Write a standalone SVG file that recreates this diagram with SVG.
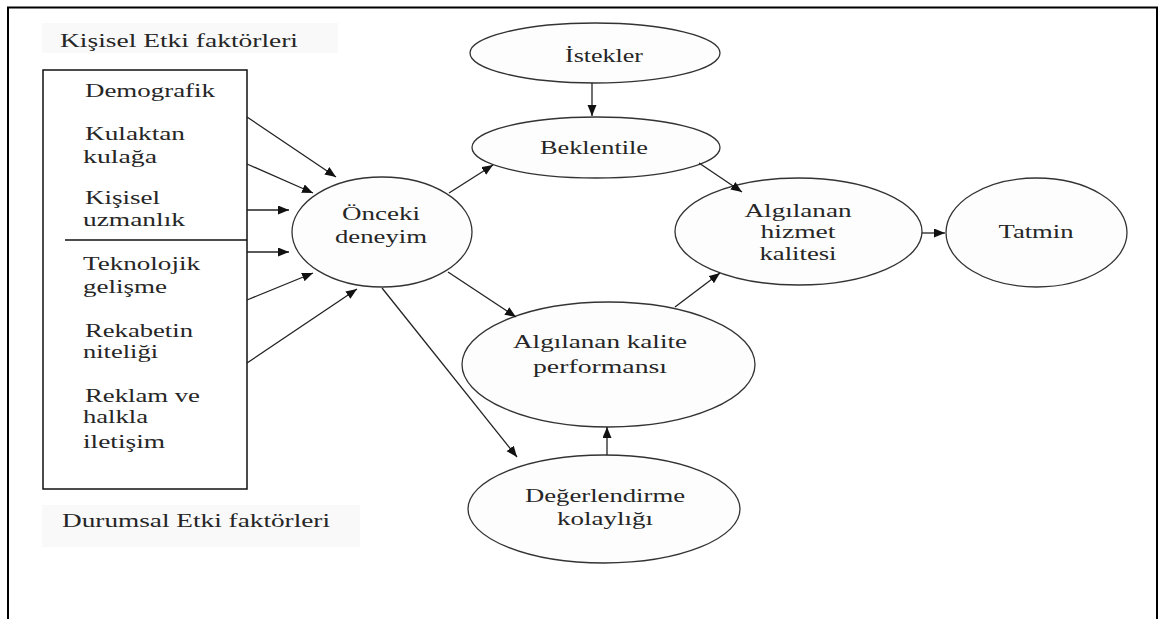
<svg xmlns="http://www.w3.org/2000/svg" width="1161" height="619" viewBox="0 0 1161 619">
<style>
text{font-family:"Liberation Serif","Times New Roman",serif;font-size:18.5px;fill:#262626}
.c{text-anchor:middle}
.node{fill:#fdfdfd;stroke:#333;stroke-width:1.3}
.conn line{stroke:#222;stroke-width:1.3;marker-end:url(#ah)}
.lbl{fill:#f9f9f9}
</style>
<defs>
<marker id="ah" markerUnits="userSpaceOnUse" markerWidth="12" markerHeight="10" refX="11" refY="4.5" orient="auto">
<path d="M0,0 L11,4.5 L0,9 z" fill="#111"/>
</marker>
</defs>
<rect width="1161" height="619" fill="#fff"/>
<path d="M8,619 V7.5 H1157 V619" fill="none" stroke="#000" stroke-width="2"/>

<g id="label-kisisel">
<rect class="lbl" x="42" y="23" width="296" height="30"/>
<text x="60" y="47" textLength="238" lengthAdjust="spacingAndGlyphs">Kişisel Etki faktörleri</text>
</g>
<g id="label-durumsal">
<rect class="lbl" x="42" y="505" width="318" height="42"/>
<text x="62" y="527" textLength="268" lengthAdjust="spacingAndGlyphs">Durumsal Etki faktörleri</text>
</g>

<g id="factors">
<rect x="43" y="70" width="204" height="419" fill="#fff" stroke="#111" stroke-width="1.5"/>
<line x1="65" y1="240" x2="247" y2="240" stroke="#111" stroke-width="1.3"/>
<text x="85" y="97" textLength="130" lengthAdjust="spacingAndGlyphs">Demografik</text>
<text x="85" y="140" textLength="100" lengthAdjust="spacingAndGlyphs">Kulaktan</text>
<text x="83" y="163" textLength="74" lengthAdjust="spacingAndGlyphs">kulağa</text>
<text x="85" y="204" textLength="75" lengthAdjust="spacingAndGlyphs">Kişisel</text>
<text x="83" y="226" textLength="102" lengthAdjust="spacingAndGlyphs">uzmanlık</text>
<text x="83" y="270" textLength="117" lengthAdjust="spacingAndGlyphs">Teknolojik</text>
<text x="83" y="293" textLength="84" lengthAdjust="spacingAndGlyphs">gelişme</text>
<text x="85" y="337" textLength="108" lengthAdjust="spacingAndGlyphs">Rekabetin</text>
<text x="83" y="358" textLength="75" lengthAdjust="spacingAndGlyphs">niteliği</text>
<text x="85" y="402" textLength="115" lengthAdjust="spacingAndGlyphs">Reklam ve</text>
<text x="83" y="423" textLength="65" lengthAdjust="spacingAndGlyphs">halkla</text>
<text x="83" y="448" textLength="82" lengthAdjust="spacingAndGlyphs">iletişim</text>
</g>

<g id="onceki">
<ellipse class="node" cx="382" cy="232" rx="90" ry="55"/>
<text class="c" x="381" y="220" textLength="78" lengthAdjust="spacingAndGlyphs">Önceki</text>
<text class="c" x="381" y="243" textLength="92" lengthAdjust="spacingAndGlyphs">deneyim</text>
</g>
<g id="istekler">
<ellipse class="node" cx="595" cy="53" rx="125" ry="30"/>
<text class="c" x="604" y="62" textLength="78" lengthAdjust="spacingAndGlyphs">İstekler</text>
</g>
<g id="beklentile">
<ellipse class="node" cx="596" cy="147.5" rx="124" ry="30.5"/>
<text class="c" x="594" y="154" textLength="108" lengthAdjust="spacingAndGlyphs">Beklentile</text>
</g>
<g id="algilanan-hizmet">
<ellipse class="node" cx="798.5" cy="231.5" rx="123.5" ry="53.5"/>
<text class="c" x="798" y="217" textLength="107" lengthAdjust="spacingAndGlyphs">Algılanan</text>
<text class="c" x="798" y="238" textLength="75" lengthAdjust="spacingAndGlyphs">hizmet</text>
<text class="c" x="798" y="260" textLength="77" lengthAdjust="spacingAndGlyphs">kalitesi</text>
</g>
<g id="tatmin">
<ellipse class="node" cx="1036.5" cy="232.5" rx="90.5" ry="54.5"/>
<text class="c" x="1036" y="238" textLength="75" lengthAdjust="spacingAndGlyphs">Tatmin</text>
</g>
<g id="algilanan-kalite">
<ellipse class="node" cx="608.5" cy="364.5" rx="146.5" ry="62.5"/>
<text class="c" x="600" y="348" textLength="174" lengthAdjust="spacingAndGlyphs">Algılanan kalite</text>
<text class="c" x="600" y="373" textLength="134" lengthAdjust="spacingAndGlyphs">performansı</text>
</g>
<g id="degerlendirme">
<ellipse class="node" cx="604" cy="509" rx="136" ry="54"/>
<text class="c" x="605" y="502" textLength="160" lengthAdjust="spacingAndGlyphs">Değerlendirme</text>
<text class="c" x="605" y="525" textLength="96" lengthAdjust="spacingAndGlyphs">kolaylığı</text>
</g>

<g id="connectors" class="conn">
<line x1="247" y1="117" x2="336" y2="177"/>
<line x1="247" y1="164" x2="313" y2="193"/>
<line x1="247" y1="210" x2="289" y2="210"/>
<line x1="247" y1="252" x2="289" y2="252"/>
<line x1="247" y1="300" x2="313" y2="273"/>
<line x1="247" y1="363" x2="357" y2="289"/>
<line x1="449" y1="193" x2="493" y2="165"/>
<line x1="448" y1="272" x2="516" y2="317"/>
<line x1="382" y1="288" x2="517" y2="457"/>
<line x1="592" y1="83" x2="592" y2="116"/>
<line x1="699" y1="163" x2="742" y2="192"/>
<line x1="675" y1="307" x2="720" y2="273"/>
<line x1="922" y1="233" x2="945" y2="233"/>
<line x1="607" y1="455" x2="607" y2="427"/>
</g>
</svg>
